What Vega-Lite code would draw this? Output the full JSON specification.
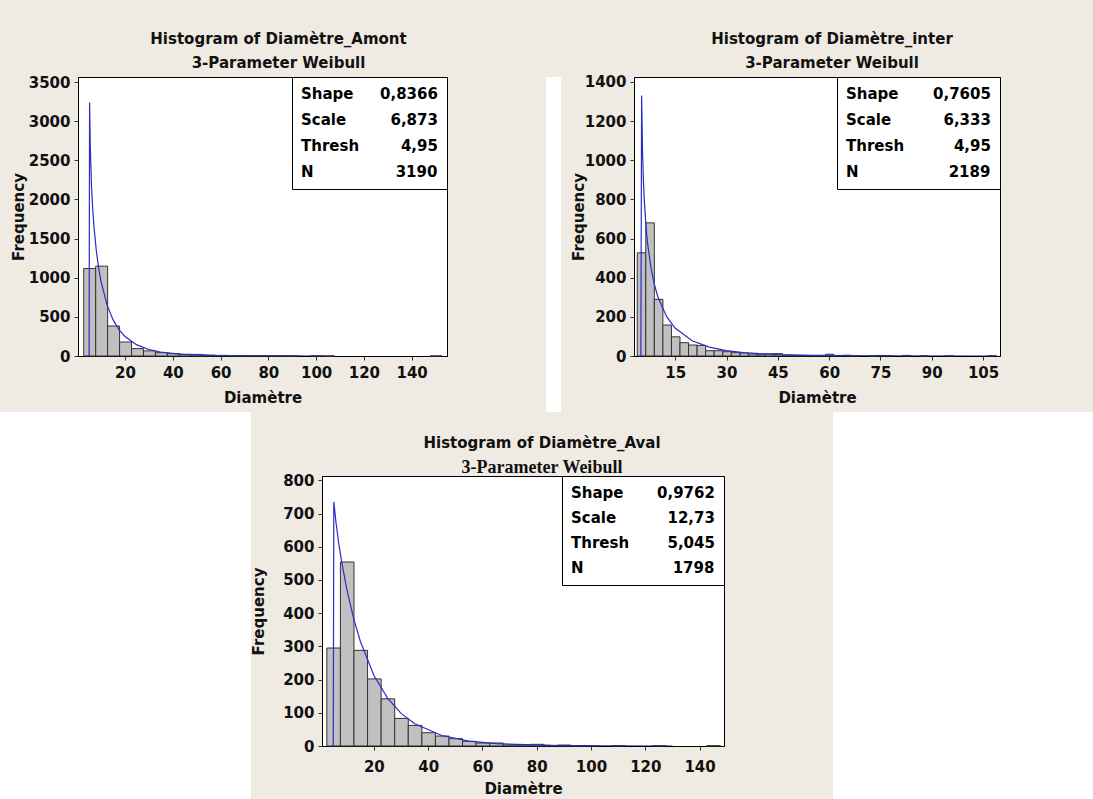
{
  "$schema": "https://vega.github.io/schema/vega-lite/v6.json",
  "background": "#efebe2",
  "padding": {"left": 0, "top": 31, "right": 0, "bottom": 0},
  "spacing": 0,
  "resolve": {"scale": {"color": "independent"}, "legend": {"color": "independent"}},
  "config": {
    "view": {"stroke": null},
    "axis": {
      "labelFont": "DejaVu Sans", "labelFontSize": 15, "labelFontWeight": "bold", "labelColor": "#111111",
      "titleFont": "DejaVu Sans", "titleFontSize": 15, "titleFontWeight": "bold", "titleColor": "#111111",
      "grid": false, "domainColor": "#000000", "domainWidth": 1, "tickColor": "#333333", "tickSize": 4, "tickWidth": 1,
      "labelFlush": false, "labelOverlap": false, "format": "d"
    },
    "axisX": {"labelPadding": 5, "titlePadding": 10},
    "axisY": {"labelPadding": 4},
    "legend": {
      "title": null, "orient": "top-right", "offset": 0, "columns": 2, "direction": "horizontal", "padding": 9,
      "symbolSize": 0, "symbolOpacity": 0, "symbolStrokeWidth": 0, "labelOffset": -15,
      "labelFont": "DejaVu Sans", "labelFontSize": 15, "labelFontWeight": "bold", "labelColor": "black", "labelLimit": 200,
      "strokeColor": "black", "fillColor": "white"
    },
    "title": {
      "font": "DejaVu Sans", "fontSize": 15, "fontWeight": "bold", "color": "#111111",
      "subtitleFont": "DejaVu Sans", "subtitleFontSize": 15, "subtitleFontWeight": "bold", "subtitleColor": "#111111",
      "subtitlePadding": 9, "offset": 4, "anchor": "middle", "frame": "group"
    }
  },
  "vconcat": [
    {
      "spacing": 4,
      "resolve": {"scale": {"color": "independent"}, "legend": {"color": "independent"}},
      "hconcat": [
        {"width": 6, "height": 1, "data": {"values": []}, "mark": "point", "view": {"stroke": null, "fill": null}},
        {
          "width": 369, "height": 279,
          "view": {"fill": "white", "stroke": "black", "strokeWidth": 1},
          "title": {"text": "Histogram of Diamètre_Amont", "subtitle": "3-Parameter Weibull", "dx": 16},
          "layer": [
            {
              "data": {"values": [
                {"lo": 2.5, "hi": 7.5, "count": 1118},
                {"lo": 7.5, "hi": 12.5, "count": 1148},
                {"lo": 12.5, "hi": 17.5, "count": 383},
                {"lo": 17.5, "hi": 22.5, "count": 179},
                {"lo": 22.5, "hi": 27.5, "count": 94},
                {"lo": 27.5, "hi": 32.5, "count": 66},
                {"lo": 32.5, "hi": 37.5, "count": 42},
                {"lo": 37.5, "hi": 42.5, "count": 30},
                {"lo": 42.5, "hi": 47.5, "count": 22},
                {"lo": 47.5, "hi": 52.5, "count": 20},
                {"lo": 52.5, "hi": 57.5, "count": 12},
                {"lo": 57.5, "hi": 62.5, "count": 8},
                {"lo": 62.5, "hi": 67.5, "count": 4},
                {"lo": 67.5, "hi": 72.5, "count": 3},
                {"lo": 72.5, "hi": 77.5, "count": 2},
                {"lo": 77.5, "hi": 82.5, "count": 2},
                {"lo": 82.5, "hi": 87.5, "count": 1},
                {"lo": 87.5, "hi": 92.5, "count": 1},
                {"lo": 97.5, "hi": 102.5, "count": 1},
                {"lo": 102.5, "hi": 107.5, "count": 1},
                {"lo": 147.5, "hi": 152.5, "count": 1}
              ]},
              "mark": {"type": "bar", "fill": "#c0c0c0", "stroke": "#333333", "strokeWidth": 1, "binSpacing": 0},
              "encoding": {
                "x": {"field": "lo", "bin": "binned", "type": "quantitative", "scale": {"domain": [0.3, 154.8], "nice": false, "zero": false},
                      "axis": {"values": [20, 40, 60, 80, 100, 120, 140], "title": "Diamètre"}},
                "x2": {"field": "hi"},
                "y": {"field": "count", "type": "quantitative", "scale": {"domain": [0, 3565], "nice": false},
                      "axis": {"values": [0, 500, 1000, 1500, 2000, 2500, 3000, 3500], "title": "Frequency", "titlePadding": 2}}
              }
            },
            {
              "data": {"values": [
                {"x": 4.95, "f": 0}, {"x": 5.15, "f": 3240}, {"x": 5.45, "f": 2665}, {"x": 5.95, "f": 2179},
                {"x": 6.45, "f": 1882}, {"x": 6.95, "f": 1664}, {"x": 7.95, "f": 1349}, {"x": 8.95, "f": 1123},
                {"x": 9.95, "f": 950}, {"x": 12.45, "f": 653}, {"x": 14.95, "f": 465}, {"x": 17.45, "f": 338},
                {"x": 19.95, "f": 250}, {"x": 24.95, "f": 141.5}, {"x": 29.95, "f": 82.7}, {"x": 34.95, "f": 49.4},
                {"x": 44.95, "f": 18.5}, {"x": 54.95, "f": 7.3}, {"x": 64.95, "f": 3.0}, {"x": 84.95, "f": 0.5},
                {"x": 103, "f": 0.1}
              ]},
              "mark": {"type": "line", "stroke": "#2b2bc8", "strokeWidth": 1.2, "clip": true},
              "encoding": {
                "x": {"field": "x", "type": "quantitative", "scale": {"domain": [0.3, 154.8], "nice": false, "zero": false},
                      "axis": {"values": [20, 40, 60, 80, 100, 120, 140], "title": "Diamètre"}},
                "y": {"field": "f", "type": "quantitative", "scale": {"domain": [0, 3565], "nice": false},
                      "axis": {"values": [0, 500, 1000, 1500, 2000, 2500, 3000, 3500], "title": "Frequency", "titlePadding": 2}}
              }
            },
            {
              "data": {"values": [
                {"stat": "Shape", "value": "0,8366"},
                {"stat": "Scale", "value": "6,873"},
                {"stat": "Thresh", "value": "4,95"},
                {"stat": "N", "value": "3190"}
              ]},
              "transform": [{"fold": ["stat", "value"], "as": ["col", "entry"]}],
              "mark": {"type": "point", "opacity": 0},
              "encoding": {
                "color": {"field": "entry", "type": "nominal", "sort": null, "scale": {"range": ["black"]},
                  "legend": {"columnPadding": 20, "rowPadding": 10, "symbolSize": 0, "labelOffset": -15,
                    "labelExpr": "indexof('0123456789', substring(datum.label, 0, 1)) >= 0 ? '\u200b' + pad('', indexof(datum.label, ',') < 0 ? 2 * (5 - length(datum.label)) + 1 : 2 * (6 - length(datum.label)), '\u00a0', 'left') + datum.label : datum.label"}}
              }
            }
          ]
        },
        {"width": 90, "height": 1, "data": {"values": []}, "mark": "point", "view": {"stroke": null, "fill": null}},
        {"width": 15, "height": 335, "data": {"values": []}, "mark": "point", "view": {"stroke": null, "fill": "white"}},
        {"width": 1, "height": 1, "data": {"values": []}, "mark": "point", "view": {"stroke": null, "fill": null}},
        {
          "width": 366, "height": 279,
          "view": {"fill": "white", "stroke": "black", "strokeWidth": 1},
          "title": {"text": "Histogram of Diamètre_inter", "subtitle": "3-Parameter Weibull", "dx": 15},
          "layer": [
            {
              "data": {"values": [
                {"lo": 3.75, "hi": 6.25, "count": 527},
                {"lo": 6.25, "hi": 8.75, "count": 680},
                {"lo": 8.75, "hi": 11.25, "count": 289},
                {"lo": 11.25, "hi": 13.75, "count": 158},
                {"lo": 13.75, "hi": 16.25, "count": 98},
                {"lo": 16.25, "hi": 18.75, "count": 68},
                {"lo": 18.75, "hi": 21.25, "count": 56},
                {"lo": 21.25, "hi": 23.75, "count": 54},
                {"lo": 23.75, "hi": 26.25, "count": 27},
                {"lo": 26.25, "hi": 28.75, "count": 27},
                {"lo": 28.75, "hi": 31.25, "count": 22},
                {"lo": 31.25, "hi": 33.75, "count": 17},
                {"lo": 33.75, "hi": 36.25, "count": 15},
                {"lo": 36.25, "hi": 38.75, "count": 10},
                {"lo": 38.75, "hi": 41.25, "count": 6},
                {"lo": 41.25, "hi": 43.75, "count": 11},
                {"lo": 43.75, "hi": 46.25, "count": 12},
                {"lo": 46.25, "hi": 48.75, "count": 4},
                {"lo": 48.75, "hi": 51.25, "count": 3},
                {"lo": 51.25, "hi": 53.75, "count": 3},
                {"lo": 53.75, "hi": 56.25, "count": 2},
                {"lo": 56.25, "hi": 58.75, "count": 3},
                {"lo": 58.75, "hi": 61.25, "count": 9},
                {"lo": 61.25, "hi": 63.75, "count": 2},
                {"lo": 63.75, "hi": 66.25, "count": 4},
                {"lo": 66.25, "hi": 68.75, "count": 1},
                {"lo": 71.25, "hi": 73.75, "count": 1},
                {"lo": 73.75, "hi": 76.25, "count": 3},
                {"lo": 76.25, "hi": 78.75, "count": 2},
                {"lo": 81.25, "hi": 83.75, "count": 3},
                {"lo": 86.25, "hi": 88.75, "count": 1},
                {"lo": 93.75, "hi": 96.25, "count": 1},
                {"lo": 106.25, "hi": 108.75, "count": 1}
              ]},
              "mark": {"type": "bar", "fill": "#c0c0c0", "stroke": "#333333", "strokeWidth": 1, "binSpacing": 0},
              "encoding": {
                "x": {"field": "lo", "bin": "binned", "type": "quantitative", "scale": {"domain": [2.95, 109.95], "nice": false, "zero": false},
                      "axis": {"values": [15, 30, 45, 60, 75, 90, 105], "title": "Diamètre"}},
                "x2": {"field": "hi"},
                "y": {"field": "count", "type": "quantitative", "scale": {"domain": [0, 1425], "nice": false},
                      "axis": {"values": [0, 200, 400, 600, 800, 1000, 1200, 1400], "title": "Frequency", "titlePadding": -2}}
              }
            },
            {
              "data": {"values": [
                {"x": 4.95, "f": 0}, {"x": 5.18, "f": 1330}, {"x": 5.45, "f": 1044}, {"x": 5.7, "f": 899},
                {"x": 5.95, "f": 800}, {"x": 6.45, "f": 664}, {"x": 6.95, "f": 571}, {"x": 7.95, "f": 446},
                {"x": 8.95, "f": 362.5}, {"x": 9.95, "f": 301.5}, {"x": 12.45, "f": 202.4}, {"x": 14.95, "f": 143},
                {"x": 19.95, "f": 77.8}, {"x": 24.95, "f": 45.4}, {"x": 29.95, "f": 27.6}, {"x": 34.95, "f": 17.3},
                {"x": 44.95, "f": 7.3}, {"x": 54.95, "f": 3.3}, {"x": 74.95, "f": 0.74}, {"x": 109, "f": 0.1}
              ]},
              "mark": {"type": "line", "stroke": "#2b2bc8", "strokeWidth": 1.2, "clip": true},
              "encoding": {
                "x": {"field": "x", "type": "quantitative", "scale": {"domain": [2.95, 109.95], "nice": false, "zero": false},
                      "axis": {"values": [15, 30, 45, 60, 75, 90, 105], "title": "Diamètre"}},
                "y": {"field": "f", "type": "quantitative", "scale": {"domain": [0, 1425], "nice": false},
                      "axis": {"values": [0, 200, 400, 600, 800, 1000, 1200, 1400], "title": "Frequency", "titlePadding": -2}}
              }
            },
            {
              "data": {"values": [
                {"stat": "Shape", "value": "0,7605"},
                {"stat": "Scale", "value": "6,333"},
                {"stat": "Thresh", "value": "4,95"},
                {"stat": "N", "value": "2189"}
              ]},
              "transform": [{"fold": ["stat", "value"], "as": ["col", "entry"]}],
              "mark": {"type": "point", "opacity": 0},
              "encoding": {
                "color": {"field": "entry", "type": "nominal", "sort": null, "scale": {"range": ["black"]},
                  "legend": {"columnPadding": 28, "rowPadding": 10, "symbolSize": 0, "labelOffset": -15,
                    "labelExpr": "indexof('0123456789', substring(datum.label, 0, 1)) >= 0 ? '\u200b' + pad('', indexof(datum.label, ',') < 0 ? 2 * (5 - length(datum.label)) + 1 : 2 * (6 - length(datum.label)), '\u00a0', 'left') + datum.label : datum.label"}}
              }
            }
          ]
        }
      ]
    },
    {
      "spacing": 0,
      "resolve": {"scale": {"color": "independent"}, "legend": {"color": "independent"}},
      "hconcat": [
        {"width": 251, "height": 390, "data": {"values": []}, "mark": "point", "view": {"stroke": null, "fill": "white"}},
        {
          "spacing": 4,
          "resolve": {"scale": {"color": "independent"}, "legend": {"color": "independent"}},
          "vconcat": [
            {"width": 402, "height": 19, "data": {"values": []}, "mark": "point", "view": {"stroke": null, "fill": null}},
            {
              "width": 402, "height": 270,
              "view": {"fill": "white", "stroke": "black", "strokeWidth": 1},
              "title": {"text": "Histogram of Diamètre_Aval", "subtitle": "3-Parameter Weibull", "dx": 19,
                        "subtitleFont": "Liberation Serif", "subtitleFontSize": 18, "subtitlePadding": 8, "offset": -4},
              "layer": [
                {
                  "data": {"values": [
                    {"lo": 2.5, "hi": 7.5, "count": 295},
                    {"lo": 7.5, "hi": 12.5, "count": 554},
                    {"lo": 12.5, "hi": 17.5, "count": 288},
                    {"lo": 17.5, "hi": 22.5, "count": 202},
                    {"lo": 22.5, "hi": 27.5, "count": 142},
                    {"lo": 27.5, "hi": 32.5, "count": 83},
                    {"lo": 32.5, "hi": 37.5, "count": 62},
                    {"lo": 37.5, "hi": 42.5, "count": 40},
                    {"lo": 42.5, "hi": 47.5, "count": 30},
                    {"lo": 47.5, "hi": 52.5, "count": 22},
                    {"lo": 52.5, "hi": 57.5, "count": 14},
                    {"lo": 57.5, "hi": 62.5, "count": 9},
                    {"lo": 62.5, "hi": 67.5, "count": 9},
                    {"lo": 67.5, "hi": 72.5, "count": 3},
                    {"lo": 72.5, "hi": 77.5, "count": 3},
                    {"lo": 77.5, "hi": 82.5, "count": 5},
                    {"lo": 82.5, "hi": 87.5, "count": 2},
                    {"lo": 87.5, "hi": 92.5, "count": 3},
                    {"lo": 92.5, "hi": 97.5, "count": 1},
                    {"lo": 97.5, "hi": 102.5, "count": 1},
                    {"lo": 107.5, "hi": 112.5, "count": 1},
                    {"lo": 122.5, "hi": 127.5, "count": 1},
                    {"lo": 142.5, "hi": 147.5, "count": 1}
                  ]},
                  "mark": {"type": "bar", "fill": "#c0c0c0", "stroke": "#333333", "strokeWidth": 1, "binSpacing": 0},
                  "encoding": {
                    "x": {"field": "lo", "bin": "binned", "type": "quantitative", "scale": {"domain": [0.9, 149], "nice": false, "zero": false},
                          "axis": {"values": [20, 40, 60, 80, 100, 120, 140], "title": "Diamètre", "labelPadding": 9, "titlePadding": 7}},
                    "x2": {"field": "hi"},
                    "y": {"field": "count", "type": "quantitative", "scale": {"domain": [0, 813], "nice": false},
                          "axis": {"values": [0, 100, 200, 300, 400, 500, 600, 700, 800], "title": "Frequency", "titlePadding": 16}}
                  }
                },
                {
                  "data": {"values": [
                    {"x": 5.045, "f": 0}, {"x": 5.25, "f": 735}, {"x": 5.545, "f": 713.7}, {"x": 6.045, "f": 673.8},
                    {"x": 7.045, "f": 611.4}, {"x": 8.045, "f": 559}, {"x": 10.045, "f": 471.8}, {"x": 12.545, "f": 384.4},
                    {"x": 15.045, "f": 314.7}, {"x": 20.045, "f": 212.3}, {"x": 25.045, "f": 144.1}, {"x": 30.045, "f": 98.2},
                    {"x": 35.045, "f": 67.1}, {"x": 45.045, "f": 31.5}, {"x": 55.045, "f": 14.9}, {"x": 65.045, "f": 7.07},
                    {"x": 85.045, "f": 1.61}, {"x": 105.045, "f": 0.37}, {"x": 130, "f": 0.07}
                  ]},
                  "mark": {"type": "line", "stroke": "#2b2bc8", "strokeWidth": 1.2, "clip": true},
                  "encoding": {
                    "x": {"field": "x", "type": "quantitative", "scale": {"domain": [0.9, 149], "nice": false, "zero": false},
                          "axis": {"values": [20, 40, 60, 80, 100, 120, 140], "title": "Diamètre", "labelPadding": 9, "titlePadding": 7}},
                    "y": {"field": "f", "type": "quantitative", "scale": {"domain": [0, 813], "nice": false},
                          "axis": {"values": [0, 100, 200, 300, 400, 500, 600, 700, 800], "title": "Frequency", "titlePadding": 16}}
                  }
                },
                {
                  "data": {"values": [
                    {"stat": "Shape", "value": "0,9762"},
                    {"stat": "Scale", "value": "12,73"},
                    {"stat": "Thresh", "value": "5,045"},
                    {"stat": "N", "value": "1798"}
                  ]},
                  "transform": [{"fold": ["stat", "value"], "as": ["col", "entry"]}],
                  "mark": {"type": "point", "opacity": 0},
                  "encoding": {
                    "color": {"field": "entry", "type": "nominal", "sort": null, "scale": {"range": ["black"]},
                      "legend": {"columnPadding": 27, "rowPadding": 9, "symbolSize": 0, "labelOffset": -15,
                        "labelExpr": "indexof('0123456789', substring(datum.label, 0, 1)) >= 0 ? '\u200b' + pad('', indexof(datum.label, ',') < 0 ? 2 * (5 - length(datum.label)) + 1 : 2 * (6 - length(datum.label)), '\u00a0', 'left') + datum.label : datum.label"}}
                  }
                }
              ]
            }
          ]
        },
        {"width": 108, "height": 1, "data": {"values": []}, "mark": "point", "view": {"stroke": null, "fill": null}},
        {"width": 260, "height": 390, "data": {"values": []}, "mark": "point", "view": {"stroke": null, "fill": "white"}}
      ]
    }
  ]
}
